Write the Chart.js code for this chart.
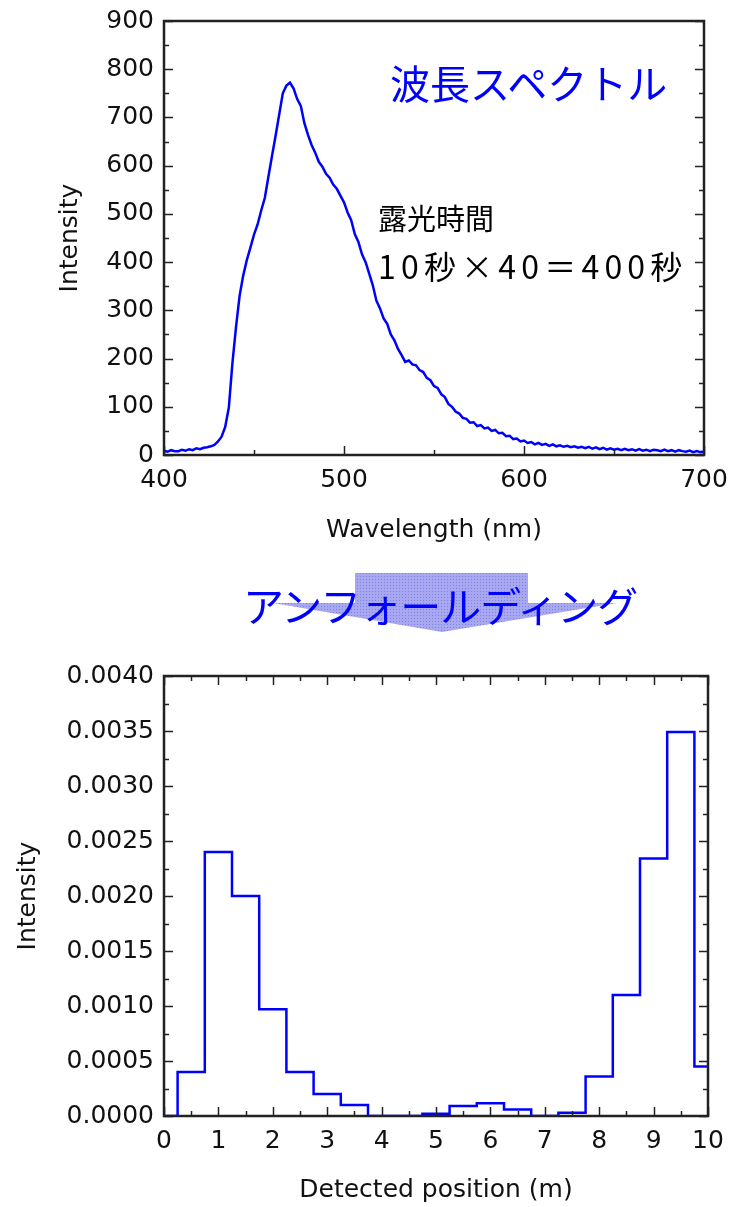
<!DOCTYPE html>
<html lang="ja">
<head>
<meta charset="utf-8">
<title>波長スペクトル / アンフォールディング</title>
<script src="https://cdn.jsdelivr.net/npm/chart.js@4.4.1/dist/chart.umd.min.js"></script>
<style>
  html, body { margin: 0; padding: 0; background: #fff; }
  #page { position: relative; width: 732px; height: 1207px; overflow: hidden; }
  .box { position: absolute; left: 0; width: 732px; }
  .note { position: absolute; white-space: nowrap; line-height: 1; font-family: "Noto Sans CJK JP", sans-serif; }
  .blue { color: #0000ff; }
  #arrow { position: absolute; left: 0; top: 0; }
</style>
</head>
<body>
<div id="page">
  <div class="box" style="top:0;height:560px"><canvas id="spectrum" width="732" height="560"></canvas></div>
  <div class="box" style="top:640px;height:567px"><canvas id="unfold" width="732" height="567"></canvas></div>

  <svg id="arrow" width="732" height="660">
    <defs>
      <pattern id="mesh" width="3" height="3" patternUnits="userSpaceOnUse">
        <rect width="3" height="3" fill="#a8a8f0"/>
        <rect width="1" height="1" fill="#8080e6"/>
      </pattern>
    </defs>
    <polygon points="355,573 528,573 528,603 617,603 442,632 273,603 355,603" fill="url(#mesh)"/>
  </svg>

  <div class="note blue" style="left:390px;top:62px;font-size:40px">波長スペクトル</div>
  <div class="note" style="left:378px;top:203px;font-size:29px">露光時間</div>
  <div class="note" style="left:378px;top:249px;font-size:32px;letter-spacing:5.2px">10秒×40＝400秒</div>
  <div class="note blue" style="left:243px;top:584px;font-size:41px;letter-spacing:-1px">アンフォールディング</div>
</div>

<script>
// emission spectrum, 400-700 nm every 2 nm
const wavelength = [
  400, 402, 404, 406, 408, 410, 412, 414, 416, 418, 420, 422, 424, 426, 428, 430,
  432, 434, 436, 438, 440, 442, 444, 446, 448, 450, 452, 454, 456, 458, 460, 462,
  464, 466, 468, 470, 472, 474, 476, 478, 480, 482, 484, 486, 488, 490, 492, 494,
  496, 498, 500, 502, 504, 506, 508, 510, 512, 514, 516, 518, 520, 522, 524, 526,
  528, 530, 532, 534, 536, 538, 540, 542, 544, 546, 548, 550, 552, 554, 556, 558,
  560, 562, 564, 566, 568, 570, 572, 574, 576, 578, 580, 582, 584, 586, 588, 590,
  592, 594, 596, 598, 600, 602, 604, 606, 608, 610, 612, 614, 616, 618, 620, 622,
  624, 626, 628, 630, 632, 634, 636, 638, 640, 642, 644, 646, 648, 650, 652, 654,
  656, 658, 660, 662, 664, 666, 668, 670, 672, 674, 676, 678, 680, 682, 684, 686,
  688, 690, 692, 694, 696, 698, 700
];
const spectrum = [
  9, 7, 10, 8, 8, 11, 9, 12, 10, 14, 12, 15, 16, 18, 21, 28,
  38, 58, 98, 190, 265, 330, 372, 404, 430, 457, 478, 507, 533, 577, 620, 662,
  706, 750, 766, 772, 760, 738, 724, 688, 664, 643, 627, 608, 598, 583, 575, 561,
  552, 538, 524, 503, 487, 458, 442, 416, 400, 376, 352, 320, 304, 283, 272, 250,
  238, 220, 207, 193, 196, 188, 186, 176, 172, 160, 155, 143, 139, 126, 120, 106,
  100, 90, 86, 77, 75, 67, 68, 60, 62, 55, 57, 50, 52, 45, 46, 39,
  40, 33, 34, 28, 30, 25, 27, 22, 25, 21, 23, 19, 22, 18, 20, 17,
  19, 16, 18, 15, 17, 14, 17, 13, 16, 12, 15, 11, 14, 11, 13, 10,
  13, 10, 12, 9, 12, 9, 11, 8, 11, 10, 8, 11, 8, 10, 7, 10,
  8, 7, 9, 6, 8, 6, 7
];

// unfolded distribution, bin centres every 0.5 m
const position = [0, 0.5, 1, 1.5, 2, 2.5, 3, 3.5, 4, 4.5, 5, 5.5, 6, 6.5, 7, 7.5, 8, 8.5, 9, 9.5, 10];
const unfolded = [
  0, 0.0004, 0.0024, 0.0020, 0.00097, 0.0004, 0.0002, 0.0001, 0, 0, 0.00002,
  0.00009, 0.000115, 0.00006, 0, 0.00003, 0.00036, 0.0011, 0.00234, 0.00349, 0.00045
];

const tickFont = { family: '"DejaVu Sans", Verdana, sans-serif', size: 25 };
const titleFont = { family: '"DejaVu Sans", Verdana, sans-serif', size: 25 };

// box frame plus inward major/minor ticks
const frameTicks = {
  id: 'frameTicks',
  afterDraw(chart, args, opts) {
    const { ctx, chartArea: a, scales: { x, y } } = chart;
    ctx.save();
    ctx.strokeStyle = '#222';
    ctx.lineWidth = 1.5;
    ctx.beginPath();
    const n = Math.round((x.max - x.min) / opts.xMinor);
    for (let i = 0; i <= n; i++) {
      const px = Math.round(x.getPixelForValue(x.min + i * opts.xMinor)) + 0.5;
      const len = i % 2 === 0 ? 9 : 5;
      ctx.moveTo(px, a.bottom); ctx.lineTo(px, a.bottom - len);
      if (opts.topTicks) { ctx.moveTo(px, a.top); ctx.lineTo(px, a.top + len); }
    }
    const m = Math.round((y.max - y.min) / opts.yMinor);
    for (let i = 0; i <= m; i++) {
      const py = Math.round(y.getPixelForValue(y.min + i * opts.yMinor)) + 0.5;
      const len = i % 2 === 0 ? 9 : 5;
      ctx.moveTo(a.left, py); ctx.lineTo(a.left + len, py);
      ctx.moveTo(a.right, py); ctx.lineTo(a.right - len, py);
    }
    ctx.stroke();
    ctx.lineWidth = 2.5;
    ctx.strokeRect(a.left, a.top, a.right - a.left, a.bottom - a.top);
    ctx.restore();
  }
};

function axes(xs, ys, h, axisBottom, yWidth) {
  return {
    x: Object.assign({
      type: 'linear',
      grid: { display: false, drawTicks: false },
      border: { display: false },
      ticks: { font: tickFont, color: '#111', padding: 10, maxRotation: 0 },
      title: { display: true, font: titleFont, color: '#111', padding: { bottom: 12 } },
      afterFit(scale) {
        scale.height = h - axisBottom;
        scale.paddingLeft = 0;
        scale.paddingRight = 0;
      }
    }, xs),
    y: Object.assign({
      grid: { display: false, drawTicks: false },
      border: { display: false },
      ticks: { font: tickFont, color: '#111', padding: 10 },
      title: { display: true, font: titleFont, color: '#111', text: 'Intensity' },
      afterFit(scale) {
        scale.width = yWidth;
        scale.paddingTop = 0;
        scale.paddingBottom = 0;
      }
    }, ys)
  };
}

Chart.defaults.animation = false;
Chart.defaults.plugins.legend.display = false;
Chart.defaults.plugins.tooltip.enabled = false;

const topScales = axes(
  { min: 400, max: 700 },
  { min: 0, max: 900 },
  560, 455, 164
);
topScales.x.ticks.stepSize = 100;
topScales.x.title.text = 'Wavelength (nm)';
topScales.x.title.padding = { bottom: 15 };
topScales.y.ticks.stepSize = 100;
topScales.y.title.padding = { top: 55 };

new Chart(document.getElementById('spectrum'), {
  type: 'line',
  data: {
    datasets: [{
      data: wavelength.map((w, i) => ({ x: w, y: spectrum[i] })),
      borderColor: '#0000ff',
      borderWidth: 2.5,
      pointRadius: 0,
      tension: 0
    }]
  },
  options: {
    responsive: false,
    layout: { padding: { top: 21, right: 28, left: 0, bottom: 0 } },
    scales: topScales,
    plugins: { frameTicks: { xMinor: 50, yMinor: 50, topTicks: false } }
  },
  plugins: [frameTicks]
});

const botScales = axes(
  { min: 0, max: 10 },
  { min: 0, max: 0.004 },
  567, 476, 164
);
botScales.x.ticks.stepSize = 1;
botScales.x.title.text = 'Detected position (m)';
botScales.x.title.padding = { bottom: 2 };
botScales.y.ticks.stepSize = 0.0005;
botScales.y.ticks.callback = v => v.toFixed(4);
botScales.y.title.padding = { top: 13 };

new Chart(document.getElementById('unfold'), {
  type: 'line',
  data: {
    datasets: [{
      data: position.map((p, i) => ({ x: p, y: unfolded[i] })),
      borderColor: '#0000ff',
      borderWidth: 2.5,
      pointRadius: 0,
      stepped: 'middle'
    }]
  },
  options: {
    responsive: false,
    layout: { padding: { top: 36, right: 24, left: 0, bottom: 0 } },
    scales: botScales,
    plugins: { frameTicks: { xMinor: 0.5, yMinor: 0.00025, topTicks: true } }
  },
  plugins: [frameTicks]
});
</script>
</body>
</html>
